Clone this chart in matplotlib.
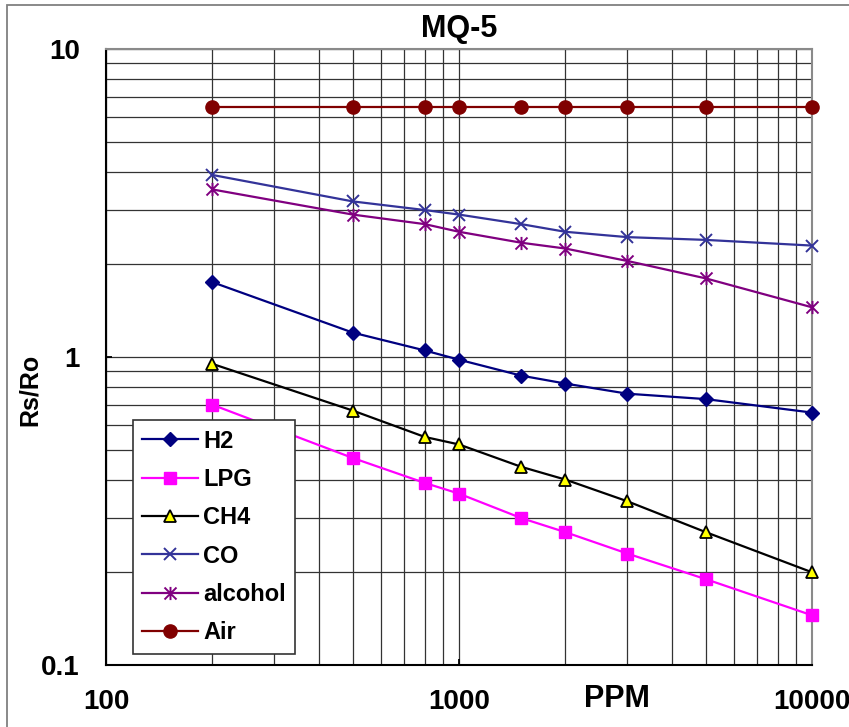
import matplotlib
matplotlib.use("Agg")
import matplotlib.pyplot as plt
from matplotlib.path import Path
from matplotlib.patches import Rectangle
from matplotlib.ticker import FixedLocator, NullFormatter, LogLocator

plt.rcParams['font.family'] = ['Liberation Sans', 'DejaVu Sans']
plt.rcParams['font.weight'] = 'bold'

# gas concentration (ppm) and sensor resistance ratio Rs/Ro
ppm = [200, 500, 800, 1000, 1500, 2000, 3000, 5000, 10000]
h2 = [1.75, 1.2, 1.05, 0.98, 0.87, 0.82, 0.76, 0.73, 0.66]
lpg = [0.7, 0.47, 0.39, 0.36, 0.3, 0.27, 0.23, 0.19, 0.145]
ch4 = [0.95, 0.67, 0.55, 0.52, 0.44, 0.40, 0.34, 0.27, 0.2]
co = [3.9, 3.2, 3.0, 2.9, 2.7, 2.55, 2.45, 2.4, 2.3]
alcohol = [3.5, 2.9, 2.7, 2.55, 2.35, 2.25, 2.05, 1.8, 1.45]
air = [6.5, 6.5, 6.5, 6.5, 6.5, 6.5, 6.5, 6.5, 6.5]

x_ticks = [100, 1000, 10000]
x_labels = ['100', '1000', '10000']
y_ticks = [0.1, 1, 10]
y_labels = ['0.1', '1', '10']

# asterisk marker: an X with a vertical bar through it
star = Path([(-0.5, -0.5), (0.5, 0.5), (-0.5, 0.5), (0.5, -0.5), (0, -0.55), (0, 0.55)],
            [Path.MOVETO, Path.LINETO] * 3)

fig = plt.figure(figsize=(8.49, 7.27), dpi=100)
fig.patches.append(Rectangle((7 / 849, -0.05), 1.2, 1.05 - 5 / 727, transform=fig.transFigure,
                             fill=False, edgecolor='#808080', linewidth=1.3))
ax = fig.add_axes([0.1249, 0.0853, 0.8315, 0.8473])

series = [
    ('H2', h2, dict(color='#000080', marker='D', ms=7, mfc='#000080', mec='#000080')),
    ('LPG', lpg, dict(color='#FF00FF', marker='s', ms=8, mfc='#FF00FF', mec='#FF00FF')),
    ('CH4', ch4, dict(color='black', marker='^', ms=8.5, mfc='yellow', mec='black', mew=1.3)),
    ('CO', co, dict(color='#333399', marker='x', ms=9, mec='#333399', mew=1.4)),
    ('alcohol', alcohol, dict(color='#800080', marker=star, ms=9.5, mfc='none', mec='#800080', mew=1.4)),
    ('Air', air, dict(color='#800000', marker='o', ms=9.5, mfc='#800000', mec='#800000')),
]
for name, vals, style in series:
    ax.plot(ppm, vals, label=name, lw=1.6, clip_on=False, zorder=3, **style)

ax.set_xscale('log')
ax.set_yscale('log')
ax.set_xlim(100, 10000)
ax.set_ylim(0.1, 10)

ax.xaxis.set_major_locator(FixedLocator(x_ticks))
ax.set_xticklabels(x_labels)
ax.yaxis.set_major_locator(FixedLocator(y_ticks))
ax.set_yticklabels(y_labels)
ax.xaxis.set_minor_locator(LogLocator(base=10, subs=range(2, 10)))
ax.yaxis.set_minor_locator(LogLocator(base=10, subs=range(2, 10)))
ax.xaxis.set_minor_formatter(NullFormatter())
ax.yaxis.set_minor_formatter(NullFormatter())

ax.tick_params(which='major', direction='in', length=4, width=1.3, color='black',
               labelsize=20, top=False, right=False)
ax.tick_params(axis='x', which='major', pad=17)
ax.tick_params(axis='y', which='major', pad=19)
ax.tick_params(which='minor', length=0)
for lab in ax.get_xticklabels() + ax.get_yticklabels():
    lab.set_fontweight('bold')

ax.grid(which='both', color='#333333', linewidth=0.9)
ax.set_axisbelow(True)

for side in ('top', 'right'):
    ax.spines[side].set_color('#8a8a8a')
    ax.spines[side].set_linewidth(1.5)
for side in ('left', 'bottom'):
    ax.spines[side].set_color('black')
    ax.spines[side].set_linewidth(1.5)

ax.set_title('MQ-5', fontsize=22, fontweight='bold', pad=8.5)
ax.set_xlabel('PPM', fontsize=22, fontweight='bold')
ax.xaxis.set_label_coords(0.724, -0.031)
ax.set_ylabel('Rs/Ro', fontsize=18, fontweight='bold')
ax.yaxis.set_label_coords(-0.091, 0.446)

leg = ax.legend(loc='lower left', bbox_to_anchor=(0.038, 0.018), borderaxespad=0,
                prop={'size': 17, 'weight': 'bold'}, fancybox=False, framealpha=1,
                edgecolor='#333333', borderpad=0.4, labelspacing=0.65,
                handlelength=2.35, handletextpad=0.22, numpoints=1)
leg.get_frame().set_linewidth(1.2)
leg.set_zorder(5)

fig.savefig('out.png', dpi=100)
